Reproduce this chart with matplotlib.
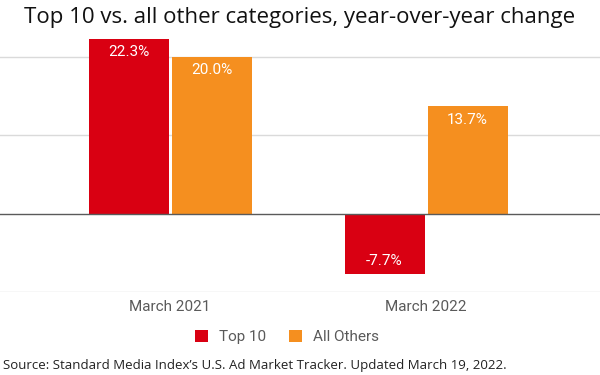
import matplotlib.pyplot as plt
import numpy as np

# values (percent change, year over year)
periods = ["March 2021", "March 2022"]
top10 = [22.3, -7.7]
others = [20.0, 13.7]
series_names = ["Top 10", "All Others"]

RED = "#d90012"
ORANGE = "#f58f1f"

fig = plt.figure(figsize=(6, 3.75), dpi=100)
# axes placed in pixel terms: y=-10 at 292px, y=23 at ~33px
ax = fig.add_axes([0, (375 - 292) / 375, 1, (292 - 33.5) / 375])

x = np.arange(len(periods))
w = 80 / 256
gap = 3 / 256
b1 = ax.bar(x - w / 2 - gap / 2, top10, w, color=RED, label=series_names[0])
b2 = ax.bar(x + w / 2 + gap / 2, others, w, color=ORANGE, label=series_names[1])

ax.set_xlim(-170 / 256, 1 + 174 / 256)
ax.set_ylim(-10, 23)

for gl in [-10, 10, 20]:
    ax.axhline(gl, color="#dadada", lw=1, zorder=0)
ax.axhline(0, color="#5a5a5a", lw=1, zorder=3)

for bars in (b1, b2):
    for r in bars:
        v = r.get_height()
        cx = r.get_x() + r.get_width() / 2
        off = -13.5 if v >= 0 else 12.5
        ax.annotate(f"{v:.1f}%", (cx, v), xytext=(0, off * 0.72),
                    textcoords="offset points", ha="center", va="center",
                    color="white", fontsize=11, family="Roboto")

for s in ax.spines.values():
    s.set_visible(False)
ax.set_yticks([])
ax.set_xticks([])

for xi, p in zip(x, periods):
    ax.annotate(p, (xi, -10), xytext=(0, -15 * 0.72), textcoords="offset points",
                ha="center", va="center", color="#5a5a5a", fontsize=11, family="Roboto")

fig.text(0.5, 1 - 18 / 375, "Top 10 vs. all other categories, year-over-year change",
         ha="center", va="center", fontsize=16, family="Open Sans", color="#111111")

leg = fig.legend(handles=[b1, b2], labels=series_names, loc="center",
                 bbox_to_anchor=(287 / 600, 1 - 337 / 375), ncol=2, frameon=False,
                 prop={"family": "Roboto", "size": 11}, labelcolor="#5a5a5a",
                 handlelength=0.85, handleheight=0.85, handletextpad=0.7, columnspacing=1.5)

fig.text(3 / 600, 1 - 365 / 375,
         "Source: Standard Media Index\u2019s U.S. Ad Market Tracker. Updated March 19, 2022.",
         ha="left", va="center", fontsize=9.5, family="Open Sans", color="#222222")

fig.savefig("out.png", dpi=100)
